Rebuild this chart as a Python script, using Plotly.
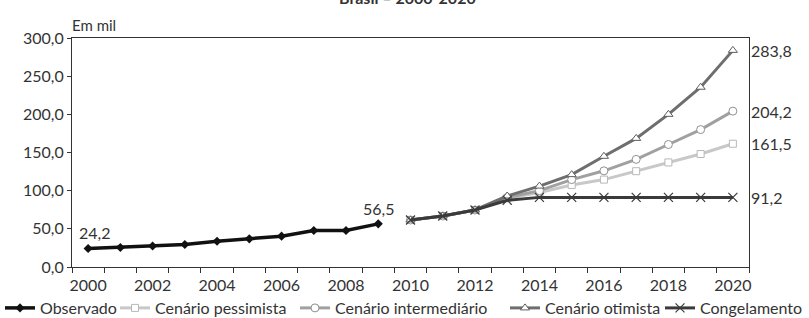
import plotly.graph_objects as go

years_obs = list(range(2000, 2010))
observado = [24.2, 25.6, 27.6, 29.5, 33.8, 36.9, 40.4, 47.9, 47.9, 56.5]

years_proj = list(range(2010, 2021))
pessimista = [61.6, 66.8, 74.7, 90.0, 97.5, 107.5, 114.5, 125.5, 137.0, 148.0, 161.5]
intermediario = [61.6, 66.8, 74.7, 91.0, 100.0, 114.5, 126.0, 141.0, 160.5, 180.0, 204.2]
otimista = [61.6, 66.8, 74.7, 93.0, 106.0, 121.0, 145.0, 168.5, 200.0, 235.5, 283.8]
congelamento = [61.6, 66.8, 74.7, 87.5, 91.2, 91.2, 91.2, 91.2, 91.2, 91.2, 91.2]

tick_years = list(range(2000, 2021, 2))
y_ticks = [0, 50, 100, 150, 200, 250, 300]

FONT = "Lato, 'Open Sans', sans-serif"
TXT = "#333333"
FS = 16

fig = go.Figure()
fig.add_trace(go.Scatter(x=years_obs, y=observado, name="Observado", mode="lines+markers",
                         legend="legend",
                         line=dict(color="#111111", width=3.5),
                         marker=dict(symbol="diamond", size=7, color="#111111")))
fig.add_trace(go.Scatter(x=years_proj, y=pessimista, name="Cenário pessimista", mode="lines+markers",
                         legend="legend2",
                         line=dict(color="#c8c8c8", width=3),
                         marker=dict(symbol="square", size=7, color="white",
                                     line=dict(color="#b8b8b8", width=1))))
fig.add_trace(go.Scatter(x=years_proj, y=intermediario, name="Cenário intermediário", mode="lines+markers",
                         legend="legend3",
                         line=dict(color="#a0a0a0", width=3),
                         marker=dict(symbol="circle", size=8, color="white",
                                     line=dict(color="#909090", width=1))))
fig.add_trace(go.Scatter(x=years_proj, y=otimista, name="Cenário otimista", mode="lines+markers",
                         legend="legend4",
                         line=dict(color="#6e6e6e", width=3),
                         marker=dict(symbol="triangle-up", size=8, color="white",
                                     line=dict(color="#5e5e5e", width=1))))
fig.add_trace(go.Scatter(x=years_proj, y=congelamento, name="Congelamento", mode="lines+markers",
                         legend="legend5",
                         line=dict(color="#3a3a3a", width=3),
                         marker=dict(symbol="x-thin", size=9, color="#3a3a3a",
                                     line=dict(color="#3a3a3a", width=1.2))))

# point labels
fig.add_annotation(x=years_obs[0], y=observado[0], text="24,2", showarrow=False,
                   yshift=16, xshift=6, font=dict(size=FS, color=TXT, family=FONT))
fig.add_annotation(x=years_obs[-1], y=observado[-1], text="56,5", showarrow=False,
                   yshift=15, font=dict(size=FS, color=TXT, family=FONT))
for val in [otimista[-1], intermediario[-1], pessimista[-1], congelamento[-1]]:
    fig.add_annotation(x=1, xref="paper", y=val, text=f"{val:.1f}".replace(".", ","),
                       showarrow=False, xanchor="left", xshift=0,
                       font=dict(size=FS, color=TXT, family=FONT))

fig.add_annotation(x=0, xref="paper", y=1, yref="paper", text="Em mil", showarrow=False,
                   xanchor="left", yanchor="bottom", yshift=2, xshift=-2,
                   font=dict(size=15, color=TXT, family=FONT))
fig.add_annotation(x=0.496, xref="paper", y=1.175, yref="paper", text="<b>Brasil – 2000-2020</b>",
                   showarrow=False, yanchor="middle", xanchor="center",
                   font=dict(size=16, color=TXT, family=FONT))

W, H = 809, 318
leg_text_x = [40, 157, 337, 547, 702]
leg_y_px = 308


def make_legend(px):
    return dict(orientation="h", x=(px - 42) / W, xref="container", xanchor="left",
                y=1 - leg_y_px / H, yref="container", yanchor="middle",
                font=dict(size=FS, color=TXT, family=FONT), itemwidth=30,
                bgcolor="rgba(0,0,0,0)", borderwidth=0)


fig.update_layout(
    width=W, height=H,
    margin=dict(l=72, r=60, t=38, b=51, autoexpand=False),
    paper_bgcolor="white", plot_bgcolor="white",
    separators=",.",
    font=dict(family=FONT, size=FS, color=TXT),
    showlegend=True,
    legend=make_legend(leg_text_x[0]),
    legend2=make_legend(leg_text_x[1]),
    legend3=make_legend(leg_text_x[2]),
    legend4=make_legend(leg_text_x[3]),
    legend5=make_legend(leg_text_x[4]),
    xaxis=dict(range=[1999.5, 2020.5], tickmode="array", tickvals=tick_years,
               ticktext=[str(y) for y in tick_years], ticks="", showgrid=False,
               zeroline=False, showline=True, linecolor="#333333", linewidth=1, mirror=True,
               tickangle=0, tickfont=dict(size=FS, color=TXT), ticklabelstandoff=4,
               minor=dict(tickmode="linear", tick0=1999.5, dtick=1, ticks="outside",
                          ticklen=5, tickcolor="#333333", showgrid=False)),
    yaxis=dict(range=[0, 300], tickmode="array", tickvals=y_ticks, tickformat=".1f",
               ticks="outside", ticklen=4, tickcolor="#333333", showgrid=False,
               zeroline=False, showline=True, linecolor="#333333", linewidth=1, mirror=True,
               tickfont=dict(size=FS, color=TXT)),
)

fig.write_html("out.html", config={"displayModeBar": False},
               post_script="document.body.style.margin='0';document.body.style.overflow='hidden';")
